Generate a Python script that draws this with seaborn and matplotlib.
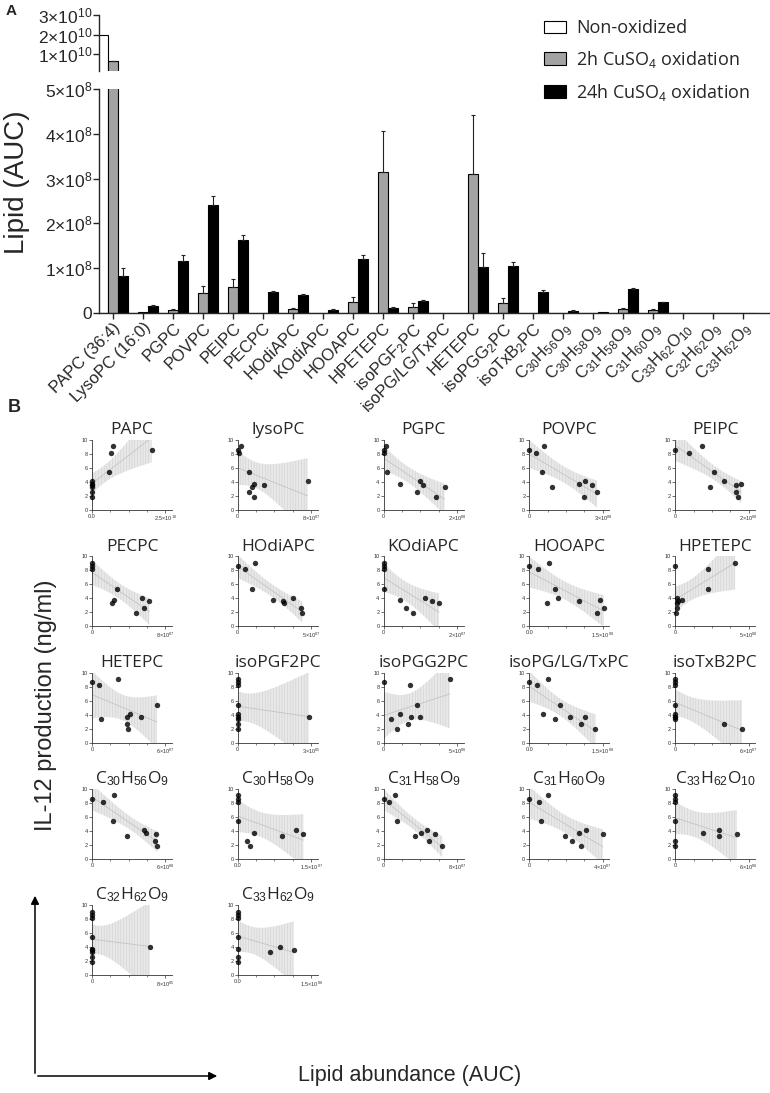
import numpy as np
import pandas as pd
import matplotlib
matplotlib.use('Agg')
import matplotlib.pyplot as plt
from matplotlib.patches import FancyArrowPatch
import seaborn as sns

sns.set_style('ticks')
plt.rcParams['font.family'] = ['Liberation Sans', 'DejaVu Sans']
plt.rcParams['mathtext.fontset'] = 'custom'
plt.rcParams['mathtext.rm'] = 'Liberation Sans'
plt.rcParams['mathtext.it'] = 'Liberation Sans:italic'
plt.rcParams['mathtext.bf'] = 'Liberation Sans:bold'
plt.rcParams['hatch.linewidth'] = 0.35

W, H = 770, 1093

# ---------------- A: lipid AUC per oxidation state ----------------
lipids = ['PAPC (36:4)', 'LysoPC (16:0)', 'PGPC', 'POVPC', 'PEIPC', 'PECPC',
          'HOdiAPC', 'KOdiAPC', 'HOOAPC', 'HPETEPC', 'isoPGF$_2$PC',
          'isoPG/LG/TxPC', 'HETEPC', 'isoPGG$_2$PC', 'isoTxB$_2$PC',
          'C$_{30}$H$_{56}$O$_9$', 'C$_{30}$H$_{58}$O$_9$', 'C$_{31}$H$_{58}$O$_9$',
          'C$_{31}$H$_{60}$O$_9$', 'C$_{33}$H$_{62}$O$_{10}$', 'C$_{32}$H$_{62}$O$_9$',
          'C$_{33}$H$_{62}$O$_9$']
conditions = ['Non-oxidized', '2h CuSO$_4$ oxidation', '24h CuSO$_4$ oxidation']

nonox = [2.0e10, 0, 0, 0, 0, 0, 0, 0, 0, 0, 0, 0, 0, 0, 0, 0, 0, 0, 0, 0, 0, 0]
nonox_err = [0] * 22
ox2h = [6.5e9, 2e6, 6e6, 4.5e7, 5.7e7, 0, 8e6, 1e6, 2.4e7, 3.15e8, 1.3e7, 0,
        3.1e8, 2.3e7, 0, 1e6, 0, 9e6, 7e6, 0, 0, 0]
ox2h_err = [2e8, 0, 2e6, 1.5e7, 1.8e7, 0, 3e6, 0, 1.1e7, 9.2e7, 9e6, 0,
            1.33e8, 1e7, 0, 0, 0, 3e6, 3e6, 0, 0, 0]
ox24h = [8.3e7, 1.6e7, 1.15e8, 2.42e8, 1.62e8, 4.6e7, 4.1e7, 7e6, 1.2e8, 1.2e7,
         2.7e7, 0, 1.03e8, 1.05e8, 4.75e7, 5e6, 3e6, 5.3e7, 2.4e7, 0, 0, 0]
ox24h_err = [1.7e7, 2e6, 1.5e7, 2e7, 1.1e7, 4e6, 2e6, 1e6, 9e6, 2e6, 1e6, 0,
             3.2e7, 8e6, 3.5e6, 1e6, 0, 3e6, 1e6, 0, 0, 0]

df = pd.DataFrame({
    'lipid': lipids * 3,
    'condition': np.repeat(conditions, len(lipids)),
    'auc': nonox + ox2h + ox24h,
})

# ---------------- B: IL-12 vs lipid abundance ----------------
il12 = [8.6, 8.2, 9.1, 5.4, 3.3, 3.7, 1.9, 4.1, 3.6, 2.6]

x_papc = [2.03e10, 6.4e9, 7.0e9, 5.8e9, 0, 0, 0, 0, 0, 0]
x_lysopc = [0.5e6, 1e6, 3e6, 1.26e7, 1.6e7, 1.8e7, 1.75e7, 7.6e7, 2.85e7, 1.2e7]
x_pgpc = [0, 0.02e8, 0.07e8, 0.09e8, 1.66e8, 0.44e8, 1.42e8, 1.0e8, 1.07e8, 0.91e8]
x_povpc = [0, 0.27e8, 0.58e8, 0.53e8, 0.91e8, 2.03e8, 2.25e8, 2.29e8, 2.55e8, 2.77e8]
x_peipc = [0, 0.37e8, 0.73e8, 1.07e8, 0.96e8, 1.8e8, 1.7e8, 1.33e8, 1.67e8, 1.67e8]
x_pecpc = [0, 0, 0, 2.7e7, 2.2e7, 2.45e7, 4.85e7, 5.5e7, 6.25e7, 5.7e7]
x_hodiapc = [0, 0.5e7, 1.17e7, 0.95e7, 3.13e7, 2.4e7, 4.4e7, 3.74e7, 3.07e7, 4.3e7]
x_kodiapc = [0, 0, 0, 0, 1.51e7, 0.44e7, 0.8e7, 1.12e7, 1.33e7, 0.62e7]
x_hooapc = [0, 0.17e8, 0.4e8, 0.52e8, 0.35e8, 1.45e8, 1.38e8, 0.58e8, 1.01e8, 1.52e8]
x_hpetepc = [0, 2.23e8, 4.08e8, 2.23e8, 0.1e8, 0.45e8, 0.05e8, 0.1e8, 0.2e8, 0.1e8]
x_hetepc = [0, 0.6e7, 2.13e7, 5.3e7, 0.7e7, 4.0e7, 2.96e7, 3.07e7, 2.9e7, 2.9e7]
x_isopgf2pc = [0, 0, 0, 0, 0, 2.9e5, 0, 0, 0, 0]
x_isopgg2pc = [0, 1.77e6, 4.5e6, 2.3e6, 0.5e6, 2.5e6, 0.9e6, 1.15e6, 1.9e6, 1.65e6]
x_isopglgtxpc = [0, 0.15e8, 0.37e8, 0.63e8, 0.52e8, 0.83e8, 1.35e8, 0.28e8, 1.13e8, 1.05e8]
x_isotxb2pc = [0, 0, 0, 0, 0, 0, 5.46e7, 0, 0, 4.0e7]
x_c30h56o9 = [0, 0.94e8, 1.8e8, 1.75e8, 2.9e8, 4.45e8, 5.35e8, 4.25e8, 5.2e8, 5.15e8]
x_c30h58o9 = [0, 0, 0, 0, 9e6, 3.3e6, 2.4e6, 1.18e7, 1.34e7, 1.9e6]
x_c31h58o9 = [0, 5.6e6, 1.2e7, 1.47e7, 3.4e7, 4.1e7, 6.4e7, 4.76e7, 5.6e7, 4.96e7]
x_c31h60o9 = [0, 0.52e7, 1.03e7, 0.65e7, 1.94e7, 2.7e7, 2.8e7, 3.1e7, 4.0e7, 2.32e7]
x_c33h62o10 = [0, 0, 0, 0, 3.6e6, 2.3e6, 0, 3.6e6, 5.05e6, 0]
x_c32h62o9 = [0, 0, 0, 0, 0, 0, 0, 6.3e5, 0, 0]
x_c33h62o9 = [0, 0, 0, 0, 6.5e5, 0, 0, 8.7e5, 1.14e6, 0]

panel_titles = ['PAPC', 'lysoPC', 'PGPC', 'POVPC', 'PEIPC',
                'PECPC', 'HOdiAPC', 'KOdiAPC', 'HOOAPC', 'HPETEPC',
                'HETEPC', 'isoPGF2PC', 'isoPGG2PC', 'isoPG/LG/TxPC', 'isoTxB2PC',
                'C$_{30}$H$_{56}$O$_{9}$', 'C$_{30}$H$_{58}$O$_{9}$', 'C$_{31}$H$_{58}$O$_{9}$',
                'C$_{31}$H$_{60}$O$_{9}$', 'C$_{33}$H$_{62}$O$_{10}$',
                'C$_{32}$H$_{62}$O$_{9}$', 'C$_{33}$H$_{62}$O$_{9}$']
panel_x = [x_papc, x_lysopc, x_pgpc, x_povpc, x_peipc,
           x_pecpc, x_hodiapc, x_kodiapc, x_hooapc, x_hpetepc,
           x_hetepc, x_isopgf2pc, x_isopgg2pc, x_isopglgtxpc, x_isotxb2pc,
           x_c30h56o9, x_c30h58o9, x_c31h58o9, x_c31h60o9, x_c33h62o10,
           x_c32h62o9, x_c33h62o9]
tick_max = [2.5e10, 8e7, 2e8, 3e8, 2e8,
            8e7, 5e7, 2e7, 1.5e8, 5e8,
            6e7, 3e5, 5e6, 1.5e8, 6e7,
            6e8, 1.5e7, 8e7, 4e7, 6e6,
            8e5, 1.5e6]
tick_text = ['2.5×10$^{10}$', '8×10$^{07}$', '2×10$^{08}$', '3×10$^{08}$', '2×10$^{08}$',
             '8×10$^{07}$', '5×10$^{07}$', '2×10$^{07}$', '1.5×10$^{08}$', '5×10$^{08}$',
             '6×10$^{07}$', '3×10$^{05}$', '5×10$^{06}$', '1.5×10$^{08}$', '6×10$^{07}$',
             '6×10$^{08}$', '1.5×10$^{07}$', '8×10$^{07}$', '4×10$^{07}$', '6×10$^{06}$',
             '8×10$^{05}$', '1.5×10$^{06}$']
zero_text = ['0.0', '0', '0', '0', '0',
             '0', '0', '0', '0.0', '0',
             '0', '0', '0', '0.0', '0',
             '0', '0.0', '0', '0', '0',
             '0', '0.0']

T95 = 2.306  # t(0.975, df=8) for 10 points

fig = plt.figure(figsize=(W / 100, H / 100), dpi=100)


def rect(left, top, width, height):
    return [left / W, 1 - (top + height) / H, width / W, height / H]


# ---- panel A: broken y axis ----
ax_hi = fig.add_axes(rect(99, 15, 671, 56))
ax_lo = fig.add_axes(rect(99, 89, 671, 224))
pal = ['white', '#a3a3a3', 'black']
for ax in (ax_hi, ax_lo):
    sns.barplot(data=df, x='lipid', y='auc', hue='condition', palette=pal,
                width=1.0, gap=0, edgecolor='black', linewidth=0.8,
                errorbar=None, ax=ax)
    for cont, err in zip(ax.containers, [nonox_err, ox2h_err, ox24h_err]):
        xs = [b.get_x() + b.get_width() / 2 for b in cont]
        hs = [b.get_height() for b in cont]
        keep = [i for i, e in enumerate(err) if e > 0]
        ax.errorbar([xs[i] for i in keep], [hs[i] for i in keep],
                    yerr=[[0] * len(keep), [err[i] for i in keep]],
                    fmt='none', ecolor='#222222', elinewidth=0.8,
                    capsize=1.6, capthick=0.8)
    ax.set_xlim(-0.47, 21.9)
    ax.set_xlabel('')
    ax.set_ylabel('')
    for s in ['top', 'right']:
        ax.spines[s].set_visible(False)
    ax.spines['left'].set_linewidth(1.0)
    ax.tick_params(axis='y', labelsize=12.5, length=4, width=1.0, pad=1)

handles, labels = ax_lo.get_legend_handles_labels()
ax_lo.get_legend().remove()
ax_hi.get_legend().remove()

ax_hi.set_ylim(1.6e9, 3.0e10)
ax_hi.set_yticks([1e10, 2e10, 3e10])
ax_hi.set_yticklabels(['1×10$^{10}$', '2×10$^{10}$', '3×10$^{10}$'])
ax_hi.spines['bottom'].set_visible(False)
ax_hi.set_xticks([])

ax_lo.set_ylim(0, 5e8)
ax_lo.set_yticks([0, 1e8, 2e8, 3e8, 4e8, 5e8])
ax_lo.set_yticklabels(['0', '1×10$^8$', '2×10$^8$', '3×10$^8$', '4×10$^8$', '5×10$^8$'])
ax_lo.spines['bottom'].set_linewidth(1.0)
ax_lo.tick_params(axis='x', length=4, width=1.0, pad=1)
ax_lo.set_xticks(range(len(lipids)))
ax_lo.set_xticklabels(lipids, rotation=45, ha='right', rotation_mode='anchor', fontsize=12)
fig.text(17 / W, 1 - 182 / H, 'Lipid (AUC)', rotation=90, fontsize=20,
         ha='center', va='center')

fig.legend(handles, labels, loc='upper left', bbox_to_anchor=(528 / W, 1 - 3 / H),
           frameon=False, handlelength=1.2, handleheight=0.7,
           labelspacing=0.65, handletextpad=0.55,
           prop={'family': 'Open Sans', 'size': 13})

fig.text(6 / W, 1 - 11 / H, 'A', fontsize=11, fontweight='bold', va='center')
fig.text(8 / W, 1 - 408 / H, 'B', fontsize=13, fontweight='bold', va='center')

# ---- panel B: small regressions with 95% confidence bands ----
y_arr = np.array(il12)
for k, (title, xv) in enumerate(zip(panel_titles, panel_x)):
    r, c = divmod(k, 5)
    left = 92 + c * 145.8
    top = 440 + r * 116.3
    ax = fig.add_axes(rect(left, top, 80, 70))
    x_arr = np.array(xv)
    sns.regplot(x=x_arr, y=y_arr, ax=ax, ci=None,
                scatter_kws=dict(s=15, color='black', zorder=3, clip_on=False, linewidths=0),
                line_kws=dict(color='#c4c4c4', lw=0.6, zorder=2))
    # analytic confidence band of the fitted line
    n = len(x_arr)
    slope, icpt = np.polyfit(x_arr, y_arr, 1)
    grid = np.linspace(x_arr.min(), x_arr.max(), 120)
    resid = y_arr - (slope * x_arr + icpt)
    sd = np.sqrt(resid @ resid / (n - 2))
    sxx = ((x_arr - x_arr.mean()) ** 2).sum()
    se = sd * np.sqrt(1 / n + (grid - x_arr.mean()) ** 2 / sxx)
    fit = slope * grid + icpt
    ax.fill_between(grid, fit - T95 * se, fit + T95 * se, facecolor='#e8e8e8',
                    edgecolor='#cdcdcd', linewidth=0, hatch='||||||', zorder=1)
    ax.set_xlim(0, tick_max[k] * 1.09)
    ax.set_ylim(0, 10)
    ax.set_xticks([0, tick_max[k]])
    ax.set_xticklabels([zero_text[k], tick_text[k]])
    ax.set_xticks(np.linspace(0, tick_max[k], 5), minor=True)
    ax.set_yticks([0, 2, 4, 6, 8, 10])
    ax.tick_params(labelsize=4, length=2, width=0.5, pad=1, colors='#333333')
    ax.tick_params(which='minor', length=1.2, width=0.4)
    for s in ['top', 'right']:
        ax.spines[s].set_visible(False)
    for s in ['left', 'bottom']:
        ax.spines[s].set_linewidth(0.6)
        ax.spines[s].set_color('#333333')
    ax.set_title(title, fontsize=12.5, family='Open Sans', pad=4)

# ---- shared axis labels with arrows ----
fig.add_artist(FancyArrowPatch((35 / W, 1 - 1076 / H), (35 / W, 1 - 893 / H),
                               transform=fig.transFigure, arrowstyle='-|>',
                               mutation_scale=12, lw=1.1, color='black'))
fig.add_artist(FancyArrowPatch((35 / W, 1 - 1076 / H), (220 / W, 1 - 1076 / H),
                               transform=fig.transFigure, arrowstyle='-|>',
                               mutation_scale=12, lw=1.1, color='black'))
fig.text(46 / W, 1 - 705 / H, 'IL-12 production (ng/ml)', rotation=90,
         fontsize=17, ha='center', va='center')
fig.text(410 / W, 1 - 1076 / H, 'Lipid abundance (AUC)', fontsize=15.5,
         ha='center', va='center')

fig.savefig('out.png', dpi=100)
